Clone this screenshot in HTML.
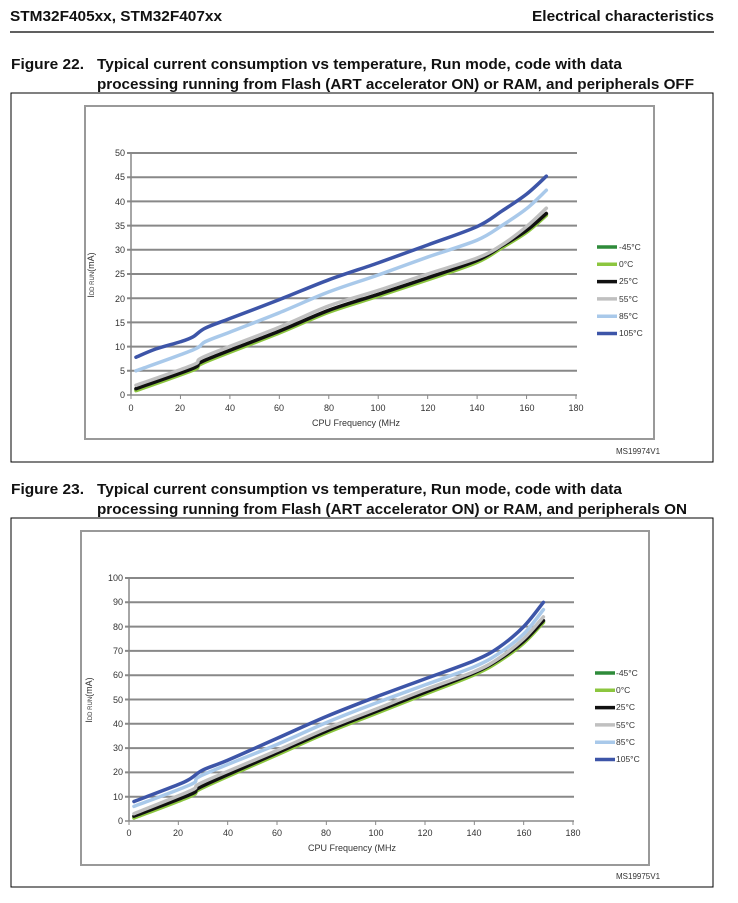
<!DOCTYPE html>
<html><head><meta charset="utf-8"><style>
body{margin:0;background:#fff;width:738px;height:903px;overflow:hidden;font-family:"Liberation Sans",Arial,sans-serif}
svg{position:absolute;left:0;top:0}
</style></head><body>
<svg width="738" height="903" viewBox="0 0 738 903" font-family="Liberation Sans, Arial, sans-serif">
<text x="10" y="21" font-size="15" font-weight="bold" fill="#111" textLength="212" lengthAdjust="spacingAndGlyphs">STM32F405xx, STM32F407xx</text>
<text x="532" y="21" font-size="15" font-weight="bold" fill="#111" textLength="182" lengthAdjust="spacingAndGlyphs">Electrical characteristics</text>
<line x1="10" y1="32" x2="714" y2="32" stroke="#000" stroke-width="1.2"/>
<text x="11" y="69" font-size="15" font-weight="bold" fill="#111" textLength="73" lengthAdjust="spacingAndGlyphs">Figure 22.</text>
<text x="97" y="69" font-size="15" font-weight="bold" fill="#111" textLength="525" lengthAdjust="spacingAndGlyphs">Typical current consumption vs temperature, Run mode, code with data</text>
<text x="97" y="89" font-size="15" font-weight="bold" fill="#111" textLength="597" lengthAdjust="spacingAndGlyphs">processing running from Flash (ART accelerator ON) or RAM, and peripherals OFF</text>
<rect x="11" y="93" width="702" height="369" fill="none" stroke="#000" stroke-width="1"/>
<rect x="85" y="106" width="569" height="333" fill="none" stroke="#999" stroke-width="2"/>
<g id="g1"></g>
<text x="11" y="494" font-size="15" font-weight="bold" fill="#111" textLength="73" lengthAdjust="spacingAndGlyphs">Figure 23.</text>
<text x="97" y="494" font-size="15" font-weight="bold" fill="#111" textLength="525" lengthAdjust="spacingAndGlyphs">Typical current consumption vs temperature, Run mode, code with data</text>
<text x="97" y="514" font-size="15" font-weight="bold" fill="#111" textLength="590" lengthAdjust="spacingAndGlyphs">processing running from Flash (ART accelerator ON) or RAM, and peripherals ON</text>
<rect x="11" y="518" width="702" height="369" fill="none" stroke="#000" stroke-width="1"/>
<rect x="81" y="531" width="568" height="334" fill="none" stroke="#999" stroke-width="2"/>
<g id="g2"></g>
<g font-size="9" fill="#333" text-anchor="end">
<text x="125" y="156">50</text><text x="125" y="180">45</text><text x="125" y="205">40</text><text x="125" y="229">35</text><text x="125" y="253">30</text><text x="125" y="277">25</text><text x="125" y="302">20</text><text x="125" y="326">15</text><text x="125" y="350">10</text><text x="125" y="374">5</text><text x="125" y="398">0</text>
</g>
<g font-size="9" fill="#333" text-anchor="middle">
<text x="131" y="411">0</text><text x="180" y="411">20</text><text x="230" y="411">40</text><text x="279" y="411">60</text><text x="329" y="411">80</text><text x="378" y="411">100</text><text x="428" y="411">120</text><text x="477" y="411">140</text><text x="527" y="411">160</text><text x="576" y="411">180</text>
<text x="356" y="426">CPU Frequency (MHz</text>
</g>
<text transform="translate(94,275) rotate(-90)" font-size="9" fill="#333" text-anchor="middle">I<tspan font-size="6">DD RUN</tspan>(mA)</text>
<g font-size="8.5" fill="#333">
<text x="619" y="250">-45°C</text><text x="619" y="267">0°C</text><text x="619" y="284">25°C</text><text x="619" y="302">55°C</text><text x="619" y="319">85°C</text><text x="619" y="336">105°C</text>
<text x="616" y="454" font-size="8">MS19974V1</text>
</g>
<g font-size="9" fill="#333" text-anchor="end">
<text x="123" y="581">100</text><text x="123" y="605">90</text><text x="123" y="630">80</text><text x="123" y="654">70</text><text x="123" y="678">60</text><text x="123" y="703">50</text><text x="123" y="727">40</text><text x="123" y="751">30</text><text x="123" y="775">20</text><text x="123" y="800">10</text><text x="123" y="824">0</text>
</g>
<g font-size="9" fill="#333" text-anchor="middle">
<text x="129" y="836">0</text><text x="178" y="836">20</text><text x="228" y="836">40</text><text x="277" y="836">60</text><text x="326" y="836">80</text><text x="376" y="836">100</text><text x="425" y="836">120</text><text x="474" y="836">140</text><text x="524" y="836">160</text><text x="573" y="836">180</text>
<text x="352" y="851">CPU Frequency (MHz</text>
</g>
<text transform="translate(92,700) rotate(-90)" font-size="9" fill="#333" text-anchor="middle">I<tspan font-size="6">DD RUN</tspan>(mA)</text>
<g font-size="8.5" fill="#333">
<text x="616" y="676">-45°C</text><text x="616" y="693">0°C</text><text x="616" y="710">25°C</text><text x="616" y="728">55°C</text><text x="616" y="745">85°C</text><text x="616" y="762">105°C</text>
<text x="616" y="879" font-size="8">MS19975V1</text>
</g>
</svg>
<script>
var NS="http://www.w3.org/2000/svg";
var cols=["#2e8b3a","#8cc63f","#111111","#c0c0c0","#a9c9ea","#3d55a8"];
function el(g,t,a){var e=document.createElementNS(NS,t);for(var k in a)e.setAttribute(k,a[k]);g.appendChild(e);return e;}
function path(pts,X,Y){var p=pts.map(function(q){return[X(q[0]),Y(q[1])]});var d="M"+p[0][0]+","+p[0][1];
for(var i=0;i<p.length-1;i++){var p0=p[i-1]||p[i],p1=p[i],p2=p[i+1],p3=p[i+2]||p2;
d+=" C"+(p1[0]+(p2[0]-p0[0])/6)+","+(p1[1]+(p2[1]-p0[1])/6)+" "+(p2[0]-(p3[0]-p1[0])/6)+","+(p2[1]-(p3[1]-p1[1])/6)+" "+p2[0]+","+p2[1];}return d;}
function chart(id,x0,x1,y0,yTop,ymax,step,series,legX,legY){
var g=document.getElementById(id);var X=function(v){return x0+(x1-x0)*v/180},Y=function(v){return y0-(y0-yTop)*v/ymax};
for(var v=0;v<=ymax;v+=step){el(g,"line",{x1:x0-4,x2:x1+1,y1:Y(v),y2:Y(v),stroke:"#888","stroke-width":v==0?1.5:2});}
el(g,"line",{x1:x0,x2:x0,y1:yTop,y2:y0,stroke:"#888","stroke-width":1.5});
for(var t=0;t<=180;t+=20)el(g,"line",{x1:X(t),x2:X(t),y1:y0,y2:y0+4,stroke:"#888","stroke-width":1});
series.forEach(function(s,i){el(g,"path",{d:path(s,X,Y),fill:"none",stroke:cols[i],"stroke-width":3.5,"stroke-linecap":"round"});
el(g,"line",{x1:legX,x2:legX+20,y1:legY+i*17.3,y2:legY+i*17.3,stroke:cols[i],"stroke-width":3.5});});
}
function shift(s,d){return s.map(function(p){return[p[0],p[1]+d]})}
var a25=[[2,1.3],[25,5.5],[30,7.2],[60,13.2],[80,17.5],[100,20.8],[120,24.2],[140,27.8],[150,30.8],[160,34],[168,37.5]];
var a55=[[2,2],[25,6.2],[30,8],[60,14],[80,18.4],[100,21.6],[120,25],[140,28.3],[150,31],[160,34.8],[168,38.6]];
var a85=[[2,5],[25,9.3],[30,11],[40,13],[60,17],[80,21.3],[100,24.8],[120,28.5],[140,32],[150,35],[160,38.5],[168,42.3]];
var a105=[[2,7.8],[10,9.5],[20,11],[25,12],[30,13.8],[40,15.8],[60,19.7],[80,23.8],[100,27.3],[120,31],[140,34.8],[150,38],[160,41.5],[168,45.2]];
chart("g1",131,576,395,153,50,5,[shift(a25,-0.2),shift(a25,-0.4),a25,a55,a85,a105],597,247);
var b25=[[2,2],[25,11],[30,14.5],[60,28],[80,37],[100,45],[120,53],[140,61],[150,66.5],[160,74],[168,82.5]];
var b55=[[2,3],[25,12.5],[30,16],[60,29],[80,38],[100,46],[120,54],[140,61.5],[150,67],[160,75],[168,84]];
var b85=[[2,6],[25,15],[30,19],[60,31.5],[80,40.5],[100,48.5],[120,56],[140,63.5],[150,69],[160,77],[168,87]];
var b105=[[2,8],[20,15],[25,17.5],[30,21],[40,25],[60,34],[80,43],[100,51],[120,58.5],[140,66],[150,71.5],[160,80],[168,90]];
chart("g2",129,573,821,578,100,10,[shift(b25,-0.4),shift(b25,-0.8),b25,b55,b85,b105],595,673);
</script>
</body></html>
